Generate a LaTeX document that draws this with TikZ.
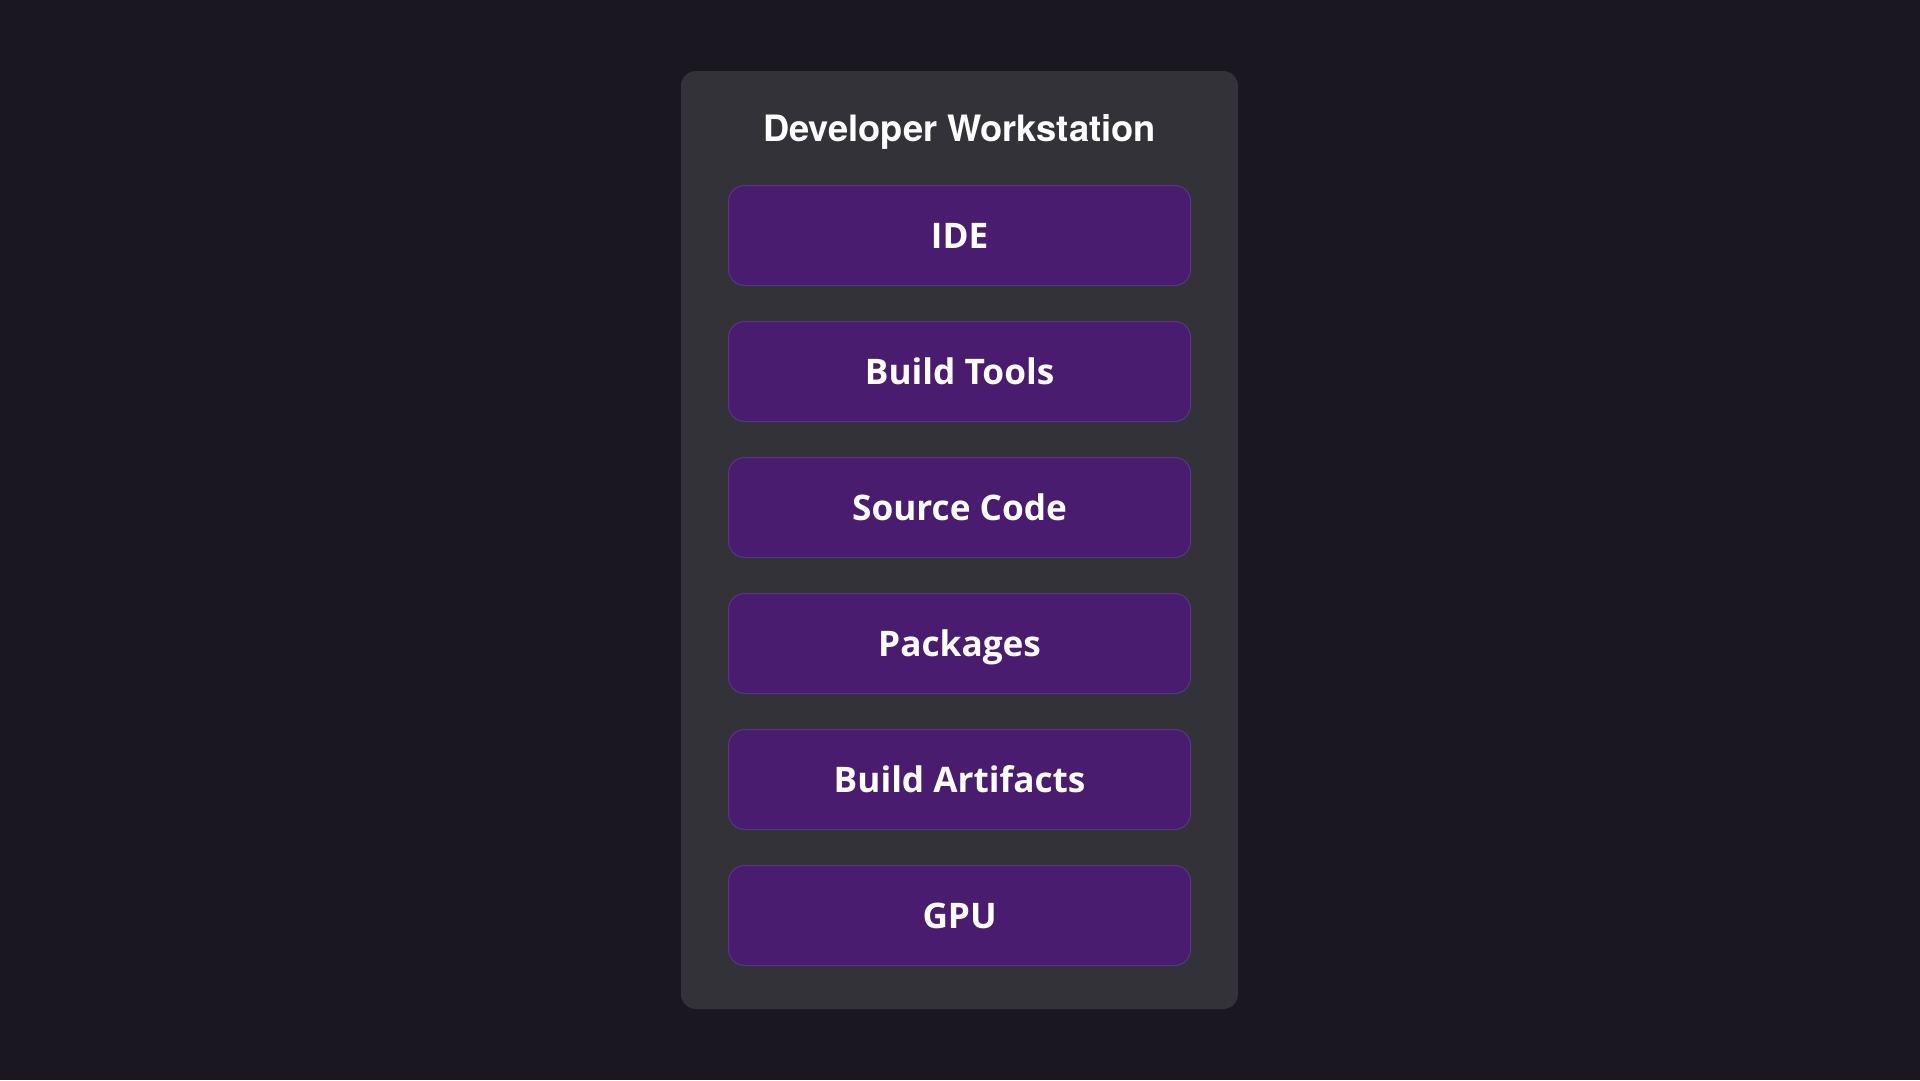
\documentclass[tikz,border=0pt]{standalone}
\usepackage{fontspec}
\setmainfont{Open Sans}
\newfontfamily\headfont{TeX Gyre Heros}
\definecolor{bgdark}{HTML}{1A1720}
\definecolor{panel}{HTML}{333238}
\definecolor{layerfill}{HTML}{4A1C70}
\definecolor{layerline}{HTML}{5A3682}

\begin{document}
\begin{tikzpicture}[x=1pt, y=-1pt,
  layer/.style={draw=layerline, line width=1pt, fill=layerfill, rounded corners=16pt,
    minimum width=462pt, minimum height=100pt, inner sep=0pt, text=white,
    text height=25pt, text depth=0pt,
    font=\bfseries\fontsize{35.2}{40}\selectfont},
  panelbox/.style={fill=panel, rounded corners=15pt, minimum width=557pt,
    minimum height=938pt, inner sep=0pt}]

\fill[bgdark] (0,0) rectangle (1920,1080);
\useasboundingbox (0,0) rectangle (1920,1080);

\node[panelbox] (ws) at (959.5,540) {};
\node[text=white, font=\headfont\bfseries\fontsize{36.3}{42}\selectfont] (title) at (959.5,131.5) {Developer Workstation};

\node[layer] (ide) at (959.6,235.5) {IDE};
\node[layer] (tools) at (959.6,371.5) {Build Tools};
\node[layer] (src) at (959.6,507.5) {Source Code};
\node[layer] (pkg) at (959.6,643.5) {Packages};
\node[layer] (art) at (959.6,779.5) {Build Artifacts};
\node[layer] (gpu) at (959.6,915.5) {GPU};
\end{tikzpicture}
\end{document}
